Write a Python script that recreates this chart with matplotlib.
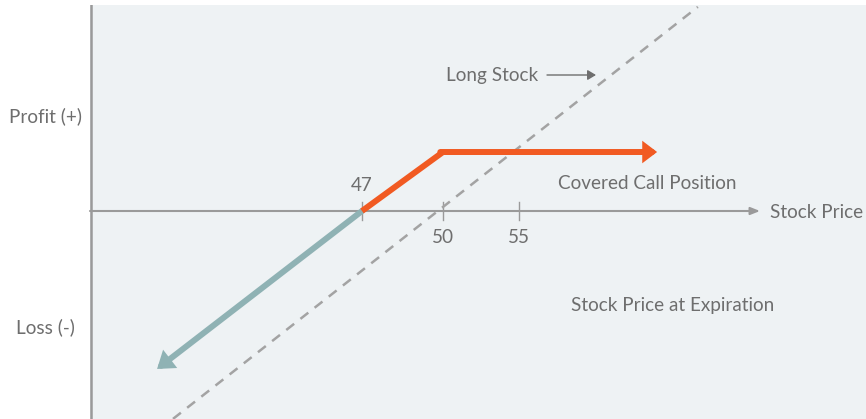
import matplotlib
matplotlib.use("Agg")
import matplotlib.pyplot as plt

# ---- data (profit diagram, schematic units) ----
covered_call_x = [47.0, 50.0, 57.93]
covered_call_y = [0.0, 2.185, 2.185]
loss_leg_x = [47.0, 39.41]
loss_leg_y = [0.0, -5.85]
long_stock_x = [40.0, 59.44]
long_stock_y = [-7.70, 7.56]
tick_labels = ["47", "50", "55"]
tick_pos = [47.0, 50.0, 52.81]

W, H = 866, 419
fig = plt.figure(figsize=(W / 100, H / 100), dpi=100)
fig.patch.set_facecolor("white")

def fx(px):
    return px / W

def fy(py):
    return 1 - py / H

ax = fig.add_axes([fx(90), 0, fx(866) - fx(90), fy(5)])
ax.set_facecolor("#eef2f4")
ax.set_xlim(36.926, 65.667)
ax.set_ylim(-7.704, 7.630)
for s in ax.spines.values():
    s.set_visible(False)
ax.set_xticks([])
ax.set_yticks([])

grey = "#6e6e6e"
axis_col = "#9a9a9a"
orange = "#f15a22"
teal = "#8fb2b4"
font = "Lato"
fs = 13.6

# vertical axis
ax.axvline(36.926 + 0.04, color=axis_col, lw=1.8, zorder=2)

# horizontal axis with arrow
ax.annotate("", xy=(47 + (760 - 362) / 27, 0), xytext=(36.926, 0),
            arrowprops=dict(arrowstyle="-|>,head_length=0.55,head_width=0.22",
                            color=axis_col, lw=1.5, shrinkA=0, shrinkB=0), zorder=2)

# ticks
for tp, tl in zip(tick_pos, tick_labels):
    ax.plot([tp, tp], [-0.35, 0.35], color=axis_col, lw=1.0, zorder=2)
    if tl == "47":
        ax.text(tp, 0.75, tl, ha="center", va="baseline", fontsize=fs,
                color=grey, family=font)
    else:
        ax.text(tp, -1.2, tl, ha="center", va="baseline", fontsize=fs,
                color=grey, family=font)

# long stock dashed
ax.plot(long_stock_x, long_stock_y, color="#a3a3a3", lw=1.8,
        ls=(0, (4, 3.2)), zorder=3)

# covered call (orange)
ax.plot(covered_call_x[:-1], covered_call_y[:-1], color=orange, lw=4.3,
        solid_joinstyle="miter", solid_capstyle="butt", zorder=5)
ax.annotate("", xy=(covered_call_x[-1], covered_call_y[-1]),
            xytext=(covered_call_x[-2] - 0.1, covered_call_y[-2]),
            arrowprops=dict(arrowstyle="-|>,head_length=0.5,head_width=0.38",
                            color=orange, lw=4.3, shrinkA=0, shrinkB=0,
                            joinstyle="miter"), zorder=5)

# loss leg (teal)
ax.annotate("", xy=(loss_leg_x[1], loss_leg_y[1]),
            xytext=(loss_leg_x[0], loss_leg_y[0]),
            arrowprops=dict(arrowstyle="-|>,head_length=0.6,head_width=0.42",
                            color=teal, lw=4.3, shrinkA=0, shrinkB=0,
                            joinstyle="miter"), zorder=4)

# texts
fig.text(fx(9), fy(116), "Profit (+)", ha="left", va="center", fontsize=fs,
         color=grey, family=font)
fig.text(fx(16), fy(327), "Loss (-)", ha="left", va="center", fontsize=fs,
         color=grey, family=font)
fig.text(fx(446), fy(75), "Long Stock", ha="left", va="center", fontsize=fs,
         color=grey, family=font)
fig.text(fx(558), fy(183), "Covered Call Position", ha="left", va="center",
         fontsize=fs, color=grey, family=font)
fig.text(fx(571), fy(305), "Stock Price at Expiration", ha="left", va="center",
         fontsize=fs, color=grey, family=font)
fig.text(fx(770), fy(212), "Stock Price", ha="left", va="center", fontsize=fs,
         color=grey, family=font)

# long stock pointer arrow
fig.add_artist(matplotlib.patches.FancyArrowPatch(
    (fx(547), fy(75)), (fx(596), fy(75)), transform=fig.transFigure,
    arrowstyle="-|>,head_length=5,head_width=3", color=grey, lw=1.0,
    shrinkA=0, shrinkB=0))

fig.savefig("out.png", dpi=100, facecolor="white")
